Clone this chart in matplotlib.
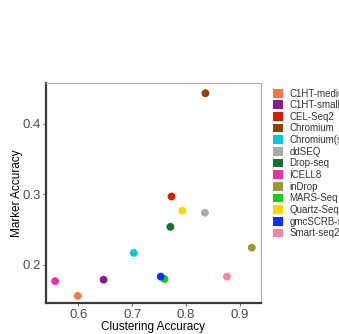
import matplotlib
matplotlib.use("Agg")
import matplotlib.pyplot as plt
from matplotlib.patches import Patch

plt.rcParams["font.family"] = ["Liberation Sans", "DejaVu Sans"]

methods = ["C1HT-medium", "C1HT-small", "CEL-Seq2", "Chromium", "Chromium(sn)",
           "ddSEQ", "Drop-seq", "ICELL8", "inDrop", "MARS-Seq", "Quartz-Seq2",
           "gmcSCRB-seq", "Smart-seq2"]
clustering_acc = [0.599, 0.647, 0.773, 0.836, 0.703, 0.835, 0.771, 0.557,
                  0.922, 0.760, 0.793, 0.753, 0.876]
marker_acc = [0.156, 0.179, 0.297, 0.4435, 0.217, 0.274, 0.254, 0.177,
              0.2245, 0.180, 0.277, 0.1834, 0.1834]
colors = ["#F07A43", "#8B1A8B", "#CC2200", "#8B4500", "#00C8D4", "#AAAAAA",
          "#137035", "#EE30A8", "#9C9A38", "#10D010", "#FFD500", "#0A30FF",
          "#F884A8"]

x_ticks = [0.6, 0.7, 0.8, 0.9]
y_ticks = [0.2, 0.3, 0.4]

fig = plt.figure(figsize=(3.39, 3.34), dpi=100)
ax = fig.add_axes([0.1357, 0.0928, 0.634, 0.6587])

for xv, yv, c in zip(clustering_acc, marker_acc, colors):
    ax.scatter(xv, yv, s=32, color=c, edgecolors="none", zorder=3)

ax.set_xlim(0.540, 0.939)
ax.set_ylim(0.146, 0.458)
ax.set_xticks(x_ticks)
ax.set_yticks(y_ticks)
ax.set_xticklabels([f"{v:.1f}" for v in x_ticks])
ax.set_yticklabels([f"{v:.1f}" for v in y_ticks])
ax.tick_params(axis="both", labelsize=9.5, colors="#4D4D4D", length=2.5,
               width=0.6)
ax.tick_params(axis="x", pad=2.0)
ax.tick_params(axis="y", pad=1.5)

for side in ("left", "bottom"):
    ax.spines[side].set_color("#3A3A3A")
    ax.spines[side].set_linewidth(1.6)
for side in ("top", "right"):
    ax.spines[side].set_color("#AAAAAA")
    ax.spines[side].set_linewidth(0.8)

ax.set_xlabel("Clustering Accuracy", fontsize=8.5, color="black", labelpad=0)
ax.set_ylabel("Marker Accuracy", fontsize=8.5, color="black", labelpad=-1)

handles = [Patch(facecolor=c, edgecolor="none") for c in colors]
fig.legend(handles, methods, loc="upper left", bbox_to_anchor=(0.805, 0.735),
           frameon=False, fontsize=7, handlelength=1.0, handleheight=1.0,
           handletextpad=0.7, labelspacing=0.17, borderaxespad=0,
           borderpad=0, labelcolor="#333333")

fig.savefig("out.png", dpi=100)
